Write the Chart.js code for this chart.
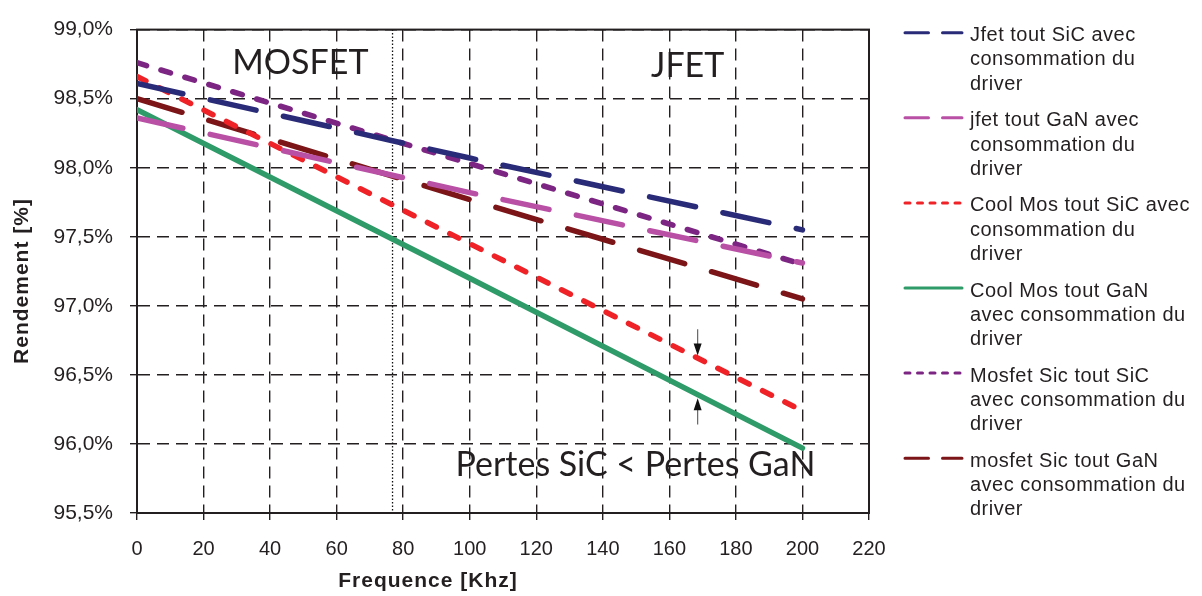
<!DOCTYPE html>
<html>
<head>
<meta charset="utf-8">
<script src="https://cdn.jsdelivr.net/npm/chart.js@4.4.0/dist/chart.umd.min.js"></script>
<style>
  html, body { margin: 0; padding: 0; background: #fff; }
  #wrap { width: 1202px; height: 596px; }
</style>
</head>
<body>
<div id="wrap"><canvas id="chart" width="1202" height="596"></canvas></div>
<script>
// frequency points [kHz] and efficiency [%]
const freq = [0, 100, 200];
const jfetSiC = [98.61, 98.07, 97.55];
const jfetGaN = [98.36, 97.82, 97.31];
const coolMosSiC = [98.66, 97.45, 96.24];
const coolMosGaN = [98.42, 97.20, 95.97];
const mosfetSiC = [98.76, 98.03, 97.30];
const mosfetGaN = [98.50, 97.77, 97.05];

const seriesLabels = [
  ["Jfet tout SiC avec", "consommation du", "driver"],
  ["jfet tout GaN avec", "consommation du", "driver"],
  ["Cool Mos tout SiC avec", "consommation du", "driver"],
  ["Cool Mos tout GaN", "avec consommation du", "driver"],
  ["Mosfet Sic tout SiC", "avec consommation du", "driver"],
  ["mosfet Sic tout GaN", "avec consommation du", "driver"]
];

const xTickRange = [0, 220, 20];
const yTickRange = [95.5, 99.0, 0.5];

// text notes placed in data units (kHz, %)
const notes = [
  { text: "MOSFET", x: 49.1, y: 98.68 },
  { text: "JFET", x: 165.5, y: 98.655 },
  { text: "Pertes SiC < Pertes GaN", x: 149.8, y: 95.765 }
];
const limitLine = 76.8; // MOSFET / JFET boundary
const arrowX = 168.5;

const toPoints = vals => vals.map((v, i) => ({ x: freq[i], y: v }));

const LONG = [47, 28];
const SHORT = [10, 15];

function ds(label, vals, color, dash) {
  return {
    label, data: toPoints(vals),
    borderColor: color, backgroundColor: color,
    borderWidth: 5.5, borderDash: dash, borderCapStyle: "round",
    pointRadius: 0, tension: 0, fill: false
  };
}

const datasets = [
  ds("Jfet tout SiC avec consommation du driver", jfetSiC, "#2a2b78", LONG),
  ds("jfet tout GaN avec consommation du driver", jfetGaN, "#b950a5", LONG),
  ds("Cool Mos tout SiC avec consommation du driver", coolMosSiC, "#ee2227", SHORT),
  ds("Cool Mos tout GaN avec consommation du driver", coolMosGaN, "#2e9b68", []),
  ds("Mosfet Sic tout SiC avec consommation du driver", mosfetSiC, "#7c2582", SHORT),
  ds("mosfet Sic tout GaN avec consommation du driver", mosfetGaN, "#7b1517", LONG)
];

const TXT = "#231f20";
const FAM = "'Liberation Sans', Arial, sans-serif";

function arrow(ctx, x, yFrom, yTo) {
  const dir = yTo > yFrom ? 1 : -1;
  ctx.strokeStyle = "#666";
  ctx.lineWidth = 1.2;
  ctx.beginPath();
  ctx.moveTo(x, yFrom);
  ctx.lineTo(x, yTo - dir * 10);
  ctx.stroke();
  ctx.fillStyle = "#111";
  ctx.beginPath();
  ctx.moveTo(x, yTo);
  ctx.lineTo(x - 4, yTo - dir * 12);
  ctx.lineTo(x + 4, yTo - dir * 12);
  ctx.closePath();
  ctx.fill();
}

const decor = {
  id: "decor",
  beforeDatasetsDraw(chart) {
    const { ctx, chartArea: a, scales: { x } } = chart;
    ctx.save();
    // dotted boundary line
    const lx = x.getPixelForValue(limitLine);
    ctx.strokeStyle = "#111";
    ctx.lineWidth = 1.3;
    ctx.setLineDash([1.5, 2]);
    ctx.beginPath();
    ctx.moveTo(lx, a.top);
    ctx.lineTo(lx, a.bottom - 2);
    ctx.stroke();
    ctx.setLineDash([]);
    // solid frame
    ctx.strokeStyle = TXT;
    ctx.lineWidth = 2;
    ctx.strokeRect(a.left, a.top, a.right - a.left, a.bottom - a.top);
    ctx.restore();
  },
  afterDatasetsDraw(chart) {
    const { ctx, scales: { x, y } } = chart;
    ctx.save();
    ctx.fillStyle = TXT;
    ctx.font = "34px Lato, 'Open Sans', sans-serif";
    ctx.textAlign = "center";
    ctx.textBaseline = "alphabetic";
    notes.forEach(n => ctx.fillText(n.text, x.getPixelForValue(n.x), y.getPixelForValue(n.y)));
    const ax = x.getPixelForValue(arrowX);
    arrow(ctx, ax, y.getPixelForValue(96.83), y.getPixelForValue(96.64));
    arrow(ctx, ax, y.getPixelForValue(96.14), y.getPixelForValue(96.33));
    ctx.restore();
  },
  afterDraw(chart) {
    const { ctx } = chart;
    ctx.save();
    // legend
    ctx.font = "20px " + FAM;
    ctx.letterSpacing = "0.5px";
    ctx.textAlign = "left";
    ctx.textBaseline = "middle";
    chart.data.datasets.forEach((d, i) => {
      const sy = 32.7 + i * 85.1;
      ctx.strokeStyle = d.borderColor;
      ctx.lineWidth = 3;
      ctx.lineCap = "round";
      ctx.setLineDash(d.borderDash.map(v => v * 0.5));
      ctx.beginPath();
      ctx.moveTo(905, sy);
      ctx.lineTo(962, sy);
      ctx.stroke();
      ctx.setLineDash([]);
      ctx.fillStyle = TXT;
      seriesLabels[i].forEach((line, k) => ctx.fillText(line, 970, sy + 3 + k * 24.2));
    });
    // axis titles
    ctx.font = "bold 21px " + FAM;
    ctx.letterSpacing = "1px";
    ctx.textAlign = "center";
    ctx.fillText("Frequence [Khz]", 428, 581);
    ctx.translate(22, 281);
    ctx.rotate(-Math.PI / 2);
    ctx.fillText("Rendement [%]", 0, 0);
    ctx.restore();
  }
};

const gridOpts = { color: TXT, lineWidth: 1.4, tickLength: 7 };
const borderOpts = { color: TXT, width: 2, dash: [12, 7] };

new Chart(document.getElementById("chart"), {
  type: "line",
  data: { datasets },
  options: {
    responsive: false,
    animation: false,
    devicePixelRatio: 1,
    layout: { padding: { top: 18, right: 333, left: 0, bottom: 0 } },
    plugins: { legend: { display: false }, tooltip: { enabled: false } },
    scales: {
      x: {
        type: "linear",
        min: xTickRange[0], max: xTickRange[1],
        ticks: { stepSize: xTickRange[2], font: { family: FAM, size: 20 }, color: TXT, padding: 17, maxRotation: 0 },
        grid: gridOpts,
        border: borderOpts,
        afterFit: s => { s.height = 83; }
      },
      y: {
        min: yTickRange[0], max: yTickRange[1],
        ticks: {
          stepSize: yTickRange[2], font: { family: FAM, size: 21 }, color: TXT, padding: 17,
          callback: v => v.toFixed(1).replace(".", ",") + "%"
        },
        grid: gridOpts,
        border: borderOpts,
        afterFit: s => { s.width = 137; }
      }
    }
  },
  plugins: [decor]
});
</script>
</body>
</html>
